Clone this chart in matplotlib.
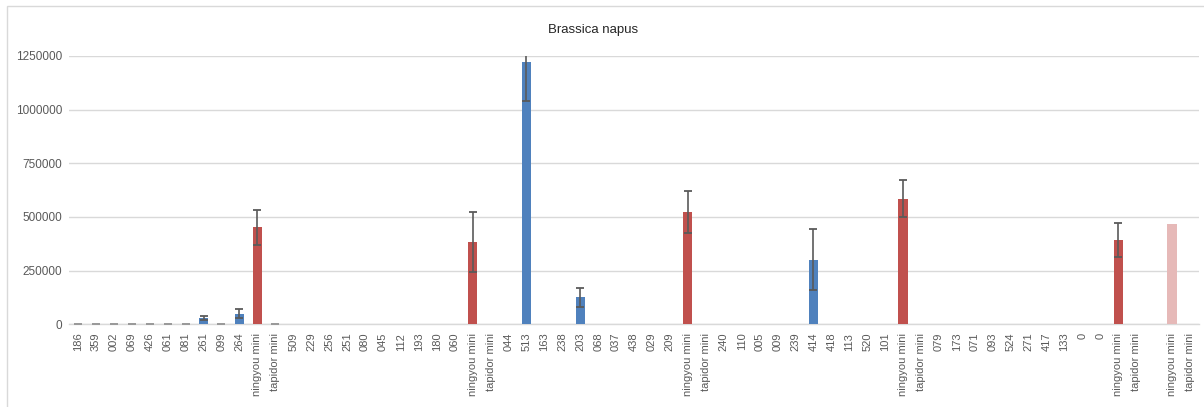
import matplotlib
matplotlib.use("Agg")
import matplotlib.pyplot as plt
from matplotlib.patches import Rectangle
import numpy as np

plt.rcParams['font.family'] = ['Liberation Sans', 'DejaVu Sans']

title = "Brassica napus"

labels = ["186", "359", "002", "069", "426", "061", "081", "261", "099", "264",
          "ningyou mini", "tapidor mini",
          "509", "229", "256", "251", "080", "045", "112", "193", "180", "060",
          "ningyou mini", "tapidor mini",
          "044", "513", "163", "238", "203", "068", "037", "438", "029", "209",
          "ningyou mini", "tapidor mini",
          "240", "110", "005", "009", "239", "414", "418", "113", "520", "101",
          "ningyou mini", "tapidor mini",
          "079", "173", "071", "093", "524", "271", "417", "133", "0", "0",
          "ningyou mini", "tapidor mini",
          "",
          "ningyou mini", "tapidor mini"]

N = None
values = [0, 0, 0, 0, 0, 0, 0, 30000, 0, 50000,
          451000, 0,
          N, N, N, N, N, N, N, N, N, N,
          384000, N,
          N, 1222000, N, N, 125000, N, N, N, N, N,
          523000, N,
          N, N, N, N, N, 301000, N, N, N, N,
          586000, N,
          N, N, N, N, N, N, N, N, N, N,
          393000, N,
          N,
          467000, N]

errors = [0, 0, 0, 0, 0, 0, 0, 8000, 0, 20000,
          82000, 0,
          N, N, N, N, N, N, N, N, N, N,
          141000, N,
          N, 183000, N, N, 43000, N, N, N, N, N,
          96000, N,
          N, N, N, N, N, 142000, N, N, N, N,
          88000, N,
          N, N, N, N, N, N, N, N, N, N,
          81000, N,
          N,
          None, N]

yticks = [0, 250000, 500000, 750000, 1000000, 1250000]

BLUE = "#4F81BD"
RED = "#C0504D"
PINK = "#E6B9B8"
GRAY_TXT = "#595959"
GRID = "#D9D9D9"
ERR = "#5A5A5A"

W, H = 1204, 407
fig = plt.figure(figsize=(W / 100, H / 100), dpi=100)
ax = fig.add_axes([69 / W, 1 - 324.3 / H, (1199 - 69) / W, (324.3 - 56) / H])

last_ning = max(i for i, l in enumerate(labels) if l == "ningyou mini")
x = np.arange(len(labels))
for i, (v, e) in enumerate(zip(values, errors)):
    if v is None:
        continue
    if labels[i] == "ningyou mini":
        c = PINK if i == last_ning else RED
    else:
        c = BLUE
    if v > 0:
        ax.bar(x[i], v, width=0.52, color=c, zorder=3, linewidth=0)
    if e is not None:
        ecol = ERR if e > 0 else "#9A9A9A"
        ax.errorbar(x[i], v, yerr=e, fmt='none', ecolor=ecol, elinewidth=1.2,
                    capsize=2.6, capthick=1.3, zorder=4)

ax.set_xlim(-0.5, len(labels) - 0.5)
ax.set_ylim(0, 1250000)
ax.set_yticks(yticks)
ax.set_yticklabels([str(t) for t in yticks])
ax.set_xticks(x)
ax.set_xticklabels(labels, rotation=90, va='top', ha='center')
ax.grid(axis='y', color=GRID, linewidth=1, zorder=0)
ax.set_axisbelow(True)
for s in ['top', 'right', 'left']:
    ax.spines[s].set_visible(False)
ax.spines['bottom'].set_color(GRID)
ax.spines['bottom'].set_linewidth(1)
ax.tick_params(axis='x', length=0, pad=6, labelsize=8, labelcolor=GRAY_TXT)
ax.tick_params(axis='y', length=0, pad=5, labelsize=8.5, labelcolor=GRAY_TXT)

fig.text(593 / W, 1 - 30 / H, title, ha='center', va='center', fontsize=9.5,
         color="#262626")

fig.patches.append(Rectangle((7 / W, -0.05), 1.1, 1 - 6 / H + 0.05,
                             transform=fig.transFigure, fill=False,
                             edgecolor=GRID, linewidth=1))

fig.savefig("out.png", dpi=100, facecolor="white")
